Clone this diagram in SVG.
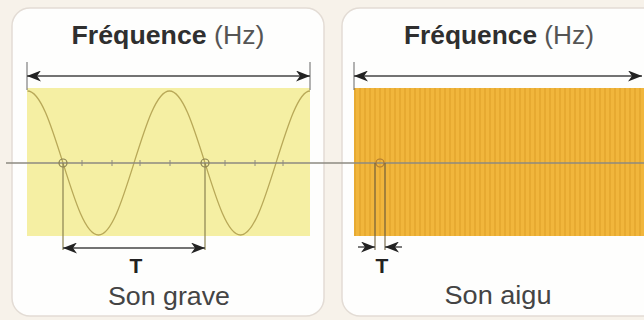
<svg xmlns="http://www.w3.org/2000/svg" width="644" height="320" viewBox="0 0 644 320">
  <style>
    .panel { fill: #fefefd; stroke: #e3dcd5; stroke-width: 1.5; }
    .title { font-family: "Liberation Sans", Arial, sans-serif; font-size: 25px; fill: #333; }
    .title .b { font-weight: bold; fill: #2f2f2f; }
    .title .r { fill: #555; }
    .label { font-family: "Liberation Sans", Arial, sans-serif; font-size: 25px; fill: #444; }
    .tlabel { font-family: "Liberation Sans", Arial, sans-serif; font-size: 21px; font-weight: bold; fill: #222; }
    .dim { stroke: #444; stroke-width: 1.4; fill: none; }
    .tick { stroke: #666; stroke-width: 1; }
    .guide { stroke: #8a8150; stroke-width: 1.2; }
    .guide2 { stroke: #6d6040; stroke-width: 1.1; }
  </style>
  <defs>
    <marker id="ah" viewBox="0 0 14 11" refX="14" refY="5.5" markerWidth="14" markerHeight="11" markerUnits="userSpaceOnUse" orient="auto-start-reverse">
      <path d="M0,0 L14,5.5 L0,11 L4,5.5 z" fill="#222"/>
    </marker>
    <pattern id="stripes" patternUnits="userSpaceOnUse" x="372.5" y="0" width="5" height="320">
      <rect x="0" y="0" width="5" height="320" fill="#f1b63c"/>
      <line x1="2.5" y1="0" x2="2.5" y2="320" stroke="#d6961e" stroke-width="1.1" opacity="0.75"/>
    </pattern>
  </defs>

  <rect x="0" y="0" width="644" height="320" fill="#f7f2ea"/>

  <g id="panel-grave">
    <rect class="panel" x="12" y="8" width="312" height="308" rx="18"/>
    <text class="title" x="168" y="44" text-anchor="middle" textLength="193" lengthAdjust="spacingAndGlyphs"><tspan class="b">Fréquence</tspan><tspan class="r"> (Hz)</tspan></text>
    <rect x="27" y="88" width="283" height="148" fill="#f5efa3"/>
    <path d="M27.5,91 C40.4,91 51.13,125.2 63,163 C74.87,200.8 85.6,235 98.5,235 C111.4,235 122.13,200.8 134,163 C145.87,125.2 156.6,91 169.5,91 C182.4,91 193.13,125.2 205,163 C216.87,200.8 227.6,235 240.5,235 C253.4,235 264.13,200.8 276,163 C287.87,125.2 298.6,91 310,91" fill="none" stroke="#b8a858" stroke-width="1.3"/>
    <text class="tlabel" x="136" y="273" text-anchor="middle">T</text>
    <text class="label" x="169" y="305" text-anchor="middle" textLength="122" lengthAdjust="spacingAndGlyphs">Son grave</text>
  </g>

  <g id="panel-aigu">
    <rect class="panel" x="342" y="8" width="320" height="308" rx="18"/>
    <text class="title" x="499" y="44" text-anchor="middle" textLength="190" lengthAdjust="spacingAndGlyphs"><tspan class="b">Fréquence</tspan><tspan class="r"> (Hz)</tspan></text>
    <rect x="354" y="88" width="290" height="148" fill="url(#stripes)"/>
    <text class="tlabel" x="382" y="273" text-anchor="middle">T</text>
    <text class="label" x="498" y="304" text-anchor="middle" textLength="107" lengthAdjust="spacingAndGlyphs">Son aigu</text>
  </g>

  <g id="connectors">
    <line class="tick" x1="27" y1="62" x2="27" y2="90"/>
    <line class="tick" x1="310" y1="62" x2="310" y2="90"/>
    <line class="dim" x1="27" y1="76" x2="310" y2="76" marker-start="url(#ah)" marker-end="url(#ah)"/>
    <line class="tick" x1="354" y1="62" x2="354" y2="90"/>
    <line class="dim" x1="354" y1="76" x2="642" y2="76" marker-start="url(#ah)" marker-end="url(#ah)"/>

    <line x1="6" y1="163" x2="644" y2="163" stroke="#8d8a80" stroke-width="1.3"/>
    <g stroke="#8d8a80" stroke-width="1">
      <line x1="82" y1="160" x2="82" y2="166"/>
      <line x1="112" y1="160" x2="112" y2="166"/>
      <line x1="140" y1="160" x2="140" y2="166"/>
      <line x1="170" y1="160" x2="170" y2="166"/>
      <line x1="225" y1="160" x2="225" y2="166"/>
      <line x1="255" y1="160" x2="255" y2="166"/>
      <line x1="283" y1="160" x2="283" y2="166"/>
    </g>
    <circle cx="63" cy="163" r="4" fill="none" stroke="#8a8150" stroke-width="1.2"/>
    <circle cx="205" cy="163" r="4" fill="none" stroke="#8a8150" stroke-width="1.2"/>
    <circle cx="380" cy="163" r="4" fill="none" stroke="#b07a30" stroke-width="1.2"/>

    <line class="guide" x1="63" y1="163" x2="63" y2="250"/>
    <line class="guide" x1="205" y1="163" x2="205" y2="250"/>
    <line class="dim" x1="63" y1="248" x2="205" y2="248" marker-start="url(#ah)" marker-end="url(#ah)"/>

    <line class="guide2" x1="375" y1="163" x2="375" y2="250"/>
    <line class="guide2" x1="385" y1="163" x2="385" y2="250"/>
    <line class="dim" x1="358" y1="247" x2="375" y2="247" marker-end="url(#ah)"/>
    <line class="dim" x1="402" y1="247" x2="385" y2="247" marker-end="url(#ah)"/>
  </g>
</svg>
